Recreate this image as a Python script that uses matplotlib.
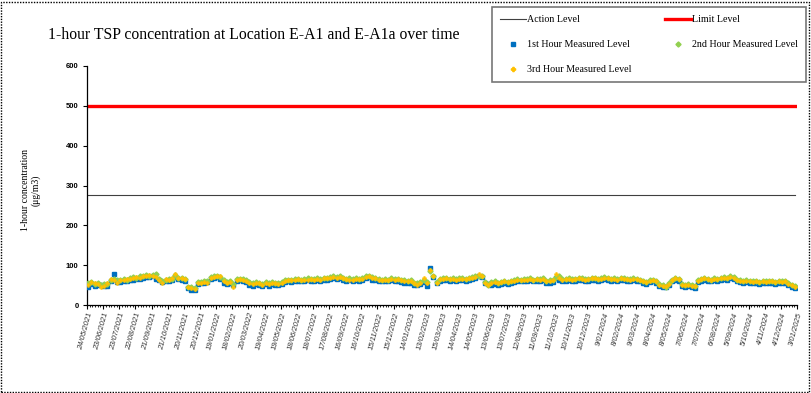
import numpy as np
import pandas as pd
import matplotlib
matplotlib.use("Agg")
import matplotlib.pyplot as plt
from matplotlib.patches import Rectangle
from matplotlib.lines import Line2D

FIRST_SAMPLE = "2021-05-26"
AXIS_START = "2021-05-24"
AXIS_END = "2025-01-03"

ACTION_LEVEL = 277
LIMIT_LEVEL = 500

tsp_1st = [
    46, 52, 48, 50, 50, 47, 48, 60, 78, 58,
    58, 61, 60, 62, 64, 65, 66, 68, 70, 70,
    72, 66, 62, 57, 60, 61, 62, 70, 66, 63,
    61, 42, 38, 37, 52, 54, 55, 57, 65, 68,
    70, 66, 56, 52, 55, 50, 60, 62, 61, 57,
    50, 48, 52, 50, 47, 52, 48, 53, 50, 49,
    53, 57, 59, 58, 60, 61, 59, 60, 62, 61,
    60, 62, 61, 63, 64, 65, 67, 65, 68, 63,
    61, 62, 60, 62, 61, 63, 67, 70, 62, 63,
    60, 59, 61, 59, 62, 60, 61, 58, 56, 54,
    56, 50, 50, 52, 57, 48, 92, 70, 55, 61,
    62, 63, 61, 63, 60, 62, 63, 61, 64, 65,
    67, 72, 70, 54, 52, 50, 52, 50, 52, 55,
    53, 55, 57, 60, 59, 61, 60, 62, 59, 61,
    60, 62, 55, 56, 58, 68, 63, 60, 61, 62,
    60, 61, 63, 62, 60, 61, 63, 64, 61, 62,
    65, 63, 61, 62, 60, 63, 62, 61, 60, 62,
    61, 59, 55, 53, 57, 59, 55, 48, 44, 45,
    49, 59, 63, 61, 47, 45, 47, 44, 43, 57,
    61, 63, 61, 59, 62, 61, 63, 65, 63, 67,
    65, 59, 57, 55, 57, 55, 54, 56, 53, 55,
    54, 56, 55, 53, 55, 54, 55, 50, 46, 43,
]

tsp_2nd = [
    54, 57, 52, 56, 49, 52, 53, 64, 66, 62,
    63, 66, 64, 68, 70, 68, 72, 74, 76, 73,
    76, 79, 65, 61, 64, 66, 66, 76, 69, 67,
    65, 46, 44, 42, 57, 58, 59, 61, 70, 72,
    74, 71, 62, 58, 60, 52, 65, 66, 65, 62,
    57, 54, 58, 56, 52, 57, 54, 58, 56, 54,
    58, 62, 64, 63, 65, 66, 64, 65, 67, 66,
    65, 67, 66, 68, 69, 70, 72, 70, 73, 68,
    66, 67, 65, 67, 66, 68, 72, 74, 70, 68,
    65, 64, 66, 64, 67, 65, 66, 64, 62, 60,
    62, 56, 54, 58, 62, 57, 85, 74, 58, 66,
    67, 68, 66, 68, 65, 67, 68, 66, 69, 70,
    72, 74, 73, 57, 49, 57, 59, 56, 58, 60,
    58, 60, 62, 65, 64, 66, 65, 67, 64, 66,
    65, 67, 60, 62, 64, 70, 72, 65, 66, 67,
    65, 66, 68, 67, 65, 66, 68, 69, 66, 67,
    70, 68, 66, 67, 65, 68, 67, 66, 65, 67,
    66, 64, 60, 58, 62, 64, 60, 52, 49, 46,
    54, 64, 68, 66, 52, 50, 52, 49, 48, 62,
    66, 68, 66, 64, 67, 66, 68, 70, 68, 72,
    70, 64, 62, 60, 62, 60, 59, 61, 58, 60,
    59, 61, 60, 58, 60, 59, 60, 54, 50, 47,
]

tsp_3rd = [
    50, 58, 54, 52, 44, 48, 54, 65, 64, 55,
    64, 63, 66, 65, 69, 70, 68, 73, 72, 75,
    74, 71, 63, 54, 65, 63, 67, 77, 67, 68,
    66, 45, 43, 41, 55, 56, 57, 54, 69, 71,
    73, 72, 59, 55, 57, 44, 64, 66, 63, 61,
    56, 53, 55, 55, 51, 56, 53, 55, 55, 53,
    56, 61, 63, 62, 62, 65, 63, 64, 64, 65,
    64, 66, 63, 67, 68, 67, 71, 69, 70, 67,
    65, 64, 64, 66, 65, 65, 71, 73, 69, 67,
    64, 63, 63, 63, 66, 64, 65, 63, 61, 59,
    59, 55, 50, 55, 69, 56, 88, 73, 56, 65,
    66, 67, 65, 65, 64, 66, 65, 65, 68, 69,
    71, 77, 72, 55, 51, 56, 58, 55, 57, 59,
    57, 59, 61, 64, 63, 63, 64, 66, 63, 65,
    64, 66, 59, 61, 63, 77, 67, 64, 65, 66,
    64, 65, 67, 66, 64, 65, 67, 68, 65, 66,
    69, 67, 65, 66, 64, 67, 66, 65, 64, 66,
    65, 63, 59, 57, 61, 63, 59, 51, 48, 47,
    53, 63, 67, 65, 51, 49, 51, 48, 47, 61,
    65, 67, 65, 63, 66, 65, 67, 69, 67, 71,
    69, 63, 61, 59, 61, 59, 58, 60, 57, 59,
    58, 60, 59, 57, 59, 58, 59, 53, 49, 46,
]

dates = pd.date_range(FIRST_SAMPLE, periods=len(tsp_1st), freq="6D")
tick_dates = pd.date_range(AXIS_START, AXIS_END, freq="30D")
tick_labels = [f"{d.day}/{d:%m/%Y}" for d in tick_dates]

SERIF = ["Liberation Serif", "DejaVu Serif"]

fig = plt.figure(figsize=(8.12, 3.93), dpi=100)
ax = fig.add_axes([87 / 812, 1 - 305 / 393, (797 - 87) / 812, (305 - 66) / 393])

# level lines
ax.plot(dates, [ACTION_LEVEL] * len(dates), color="#404040", lw=0.8, zorder=2)
ax.plot(dates, [LIMIT_LEVEL] * len(dates), color="#FF0000", lw=2.4, zorder=2)

# measured levels
ax.plot(dates, tsp_1st, ls="none", marker="s", ms=2.6, color="#0070C0", mec="#0070C0", zorder=3)
ax.plot(dates, tsp_2nd, ls="none", marker="D", ms=2.6, color="#92D050", mec="#92D050", zorder=4)
ax.plot(dates, tsp_3rd, ls="none", marker="P", ms=3.0, color="#FFC000", mec="#FFC000", mew=0.3, zorder=5)

ax.set_xlim(pd.Timestamp(AXIS_START), pd.Timestamp(AXIS_END))
ax.set_ylim(0, 600)
ax.set_yticks(range(0, 601, 100))
ax.set_yticklabels([str(v) for v in range(0, 601, 100)], fontsize=5.5,
                   family=["Liberation Sans"], fontweight="bold")
ax.set_xticks(tick_dates)
ax.set_xticklabels(tick_labels, rotation=75, ha="right", va="top",
                   rotation_mode="anchor", fontsize=5.5, color="#333333",
                   family=["Liberation Sans"], style="italic")
ax.set_xticks(pd.date_range(AXIS_START, AXIS_END, freq="5D"), minor=True)
ax.tick_params(axis="x", which="major", length=3, width=0.8, pad=2)
ax.tick_params(axis="x", which="minor", length=1.5, width=0.6)
ax.tick_params(axis="y", which="major", length=3, width=0.8, pad=3)

for side in ["top", "right"]:
    ax.spines[side].set_visible(False)
for side in ["left", "bottom"]:
    ax.spines[side].set_color("black")
    ax.spines[side].set_linewidth(0.9)

fig.text(48 / 812, 1 - 35 / 393, "1-hour TSP concentration at Location E-A1 and E-A1a over time",
         ha="left", va="center", fontsize=11.3, family=SERIF)
fig.text(31 / 812, 1 - 190 / 393, "1-hour concentration\n(μg/m3)", rotation=90,
         ha="center", va="center", fontsize=7, family=SERIF, linespacing=1.2)

handles = [
    Line2D([], [], color="#404040", lw=0.8),
    Line2D([], [], color="#FF0000", lw=2.4),
    Line2D([], [], ls="none", marker="s", ms=2.6, color="#0070C0"),
    Line2D([], [], ls="none", marker="D", ms=2.6, color="#92D050"),
    Line2D([], [], ls="none", marker="P", ms=3.0, color="#FFC000"),
]
labels = ["Action Level", "Limit Level", "1st Hour Measured Level",
          "2nd Hour Measured Level", "3rd Hour Measured Level"]
# column-major order: col1 = action, 1st, 3rd ; col2 = limit, 2nd
order = [0, 2, 4, 1, 3]
leg = fig.legend([handles[i] for i in order], [labels[i] for i in order],
                 loc="upper left", bbox_to_anchor=(492 / 812, 1 - 7 / 393),
                 ncol=2, frameon=True, fancybox=False,
                 prop={"family": SERIF, "size": 7.2}, handlelength=2.6, handletextpad=0.1,
                 labelspacing=1.6, borderpad=0.8, columnspacing=3.3, borderaxespad=0)
leg.get_frame().set_edgecolor("#555555")
leg.get_frame().set_linewidth(1.2)

fig.patches.append(Rectangle((1 / 812, 1 / 393), 808 / 812, 390 / 393, transform=fig.transFigure,
                             fill=False, edgecolor="black", lw=1, ls=(0, (1, 1))))

fig.savefig("out.png", dpi=100)
